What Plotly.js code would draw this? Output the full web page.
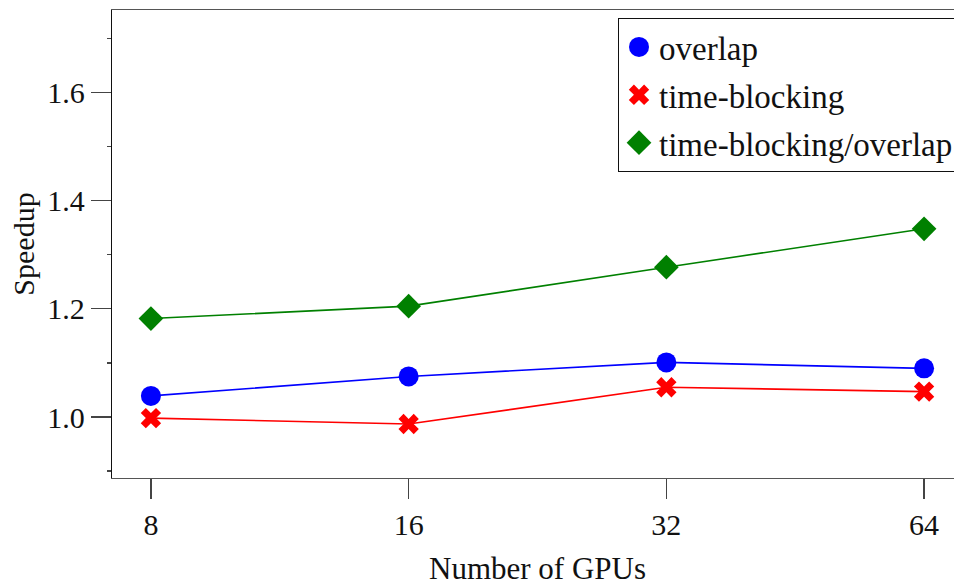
<!DOCTYPE html>
<html>
<head>
<meta charset="utf-8">
<script src="https://cdn.plot.ly/plotly-3.0.1.min.js"></script>
<style>
html,body{margin:0;padding:0;overflow:hidden;background:#fff;width:954px;height:586px;}
#chart{width:975px;height:600px;}
</style>
</head>
<body>
<div id="chart"></div>
<script>
const gpus = [8, 16, 32, 64];
const gpuLabels = ["8", "16", "32", "64"];
const overlap = [1.039, 1.075, 1.101, 1.090];
const timeBlocking = [0.998, 0.987, 1.055, 1.047];
const tbOverlap = [1.182, 1.205, 1.277, 1.348];
const seriesNames = ["overlap", "time-blocking", "time-blocking/overlap"];
const yTicks = [1.0, 1.2, 1.4, 1.6];

const FONT = "Liberation Serif, Times New Roman, serif";
const colors = ["#0000ff", "#ff0000", "#008000"];
const symbols = ["circle", "x", "diamond"];
const sizes = [20, 18, 19];
const seriesData = [overlap, timeBlocking, tbOverlap];

const traces = [];
// lines (no legend)
seriesData.forEach((ys, i) => {
  traces.push({x: gpus, y: ys, mode: "lines", showlegend: false, hoverinfo: "skip",
    legendgroup: "g" + i, line: {color: colors[i], width: 1.6}});
});
// markers (with legend)
seriesData.forEach((ys, i) => {
  traces.push({x: gpus, y: ys, name: seriesNames[i], mode: "markers", legendgroup: "g" + i,
    marker: {symbol: symbols[i], size: sizes[i], color: colors[i]}});
});

const layout = {
  width: 975, height: 600,
  margin: {l: 112, r: 12, t: 10, b: 122},
  paper_bgcolor: "#fff", plot_bgcolor: "#fff",
  font: {family: FONT, size: 30, color: "#111"},
  showlegend: true,
  legend: {x: 0.5946, y: 0.983, xanchor: "left", yanchor: "top",
    bgcolor: "#fff", bordercolor: "#111", borderwidth: 1,
    tracegroupgap: 2, font: {family: FONT, size: 33, color: "#111"}},
  xaxis: {
    type: "log",
    range: [Math.log10(Math.pow(2, 2.849)), Math.log10(Math.pow(2, 6.151))],
    tickvals: gpus, ticktext: gpuLabels,
    ticks: "outside", ticklen: 20, tickwidth: 1.3, tickcolor: "#444",
    showline: true, linecolor: "#555", linewidth: 1.3, mirror: true,
    showgrid: false, zeroline: false,
    tickfont: {family: FONT, size: 30, color: "#111"},
    title: {text: "Number of GPUs", standoff: 17, font: {family: FONT, size: 31, color: "#111"}}
  },
  yaxis: {
    range: [0.8872, 1.7526],
    tickvals: yTicks, tickformat: ".1f",
    ticks: "outside", ticklen: 20, tickwidth: 1.3, tickcolor: "#444",
    minor: {dtick: 0.1, tick0: 0.9, ticks: "outside", ticklen: 4, tickcolor: "#444", tickwidth: 1.3, showgrid: false},
    showline: true, linecolor: "#111", linewidth: 1.3,
    showgrid: false, zeroline: false,
    tickfont: {family: FONT, size: 30, color: "#111"},
    title: {text: "Speedup", standoff: 3, font: {family: FONT, size: 30, color: "#111"}}
  }
};

Plotly.newPlot("chart", traces, layout, {displayModeBar: false, staticPlot: true}).then(gd => {
  // legend caps marker size at 16px; scale legend symbols up to match the plotted markers
  const pts = gd.querySelectorAll(".legend .traces");
  pts.forEach((tr, idx) => {
    const i = idx % 3;
    tr.querySelectorAll(".legendpoints path.scatterpts").forEach(p => {
      const t = p.getAttribute("transform") || "";
      p.setAttribute("transform", t + " scale(" + (sizes[i] / 16) + ")");
    });
  });
});
</script>
</body>
</html>
